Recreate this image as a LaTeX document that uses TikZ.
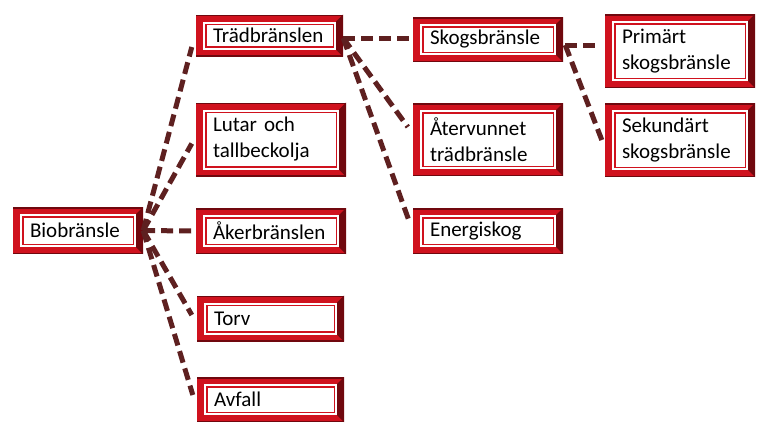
\documentclass[tikz,border=0pt]{standalone}
\usepackage{fontspec}
\setmainfont{Carlito}
\usetikzlibrary{calc}
\definecolor{boxred}{RGB}{208,18,30}
\definecolor{boxdark}{RGB}{112,8,14}
\definecolor{linkcol}{RGB}{94,32,32}
\tikzset{
  bbox/.style n args={2}{rectangle, minimum width=#1pt, minimum height=#2pt,
    text width=#1pt-34pt, inner xsep=17pt, inner ysep=0pt, align=left,
    font=\fontsize{21}{26}\selectfont,
    path picture={
      \fill[boxred] (path picture bounding box.south west) rectangle (path picture bounding box.north east);
      \fill[boxdark] ([xshift=-7pt,yshift=-7pt]path picture bounding box.north east) -- (path picture bounding box.north east) -- (path picture bounding box.south east) -- ([xshift=-7pt,yshift=7pt]path picture bounding box.south east) -- cycle;
      \fill[boxdark] (path picture bounding box.north west) rectangle ([yshift=-1.5pt]path picture bounding box.north east);
      \fill[boxdark] (path picture bounding box.south west) rectangle ([yshift=1.5pt]path picture bounding box.south east);
      \fill[white] ([xshift=7pt,yshift=-7pt]path picture bounding box.north west) rectangle ([xshift=-7pt,yshift=7pt]path picture bounding box.south east);
      \draw[boxred, line width=1.5pt] ([xshift=9.75pt,yshift=-9.75pt]path picture bounding box.north west) rectangle ([xshift=-9.75pt,yshift=9.75pt]path picture bounding box.south east);
    }},
  link/.style={draw=linkcol, line width=5pt, dash pattern=on 12pt off 6pt}
}
\begin{document}
\begin{tikzpicture}[x=1pt,y=-1pt]
\useasboundingbox[fill=white] (0,0) rectangle (768,432);
\node[bbox={130}{47}] (bio) at (78,230.5) {Biobränsle};
\node[bbox={147}{42}] (trad) at (269.5,35.5) {Trädbränslen};
\node[bbox={150}{74}] (lutar) at (271,139.5) {Lutar och\\tallbeckolja};
\node[bbox={150}{46}] (aker) at (271,231) {Åkerbränslen};
\node[bbox={147}{46}] (torv) at (270.5,318.5) {Torv};
\node[bbox={147}{45}] (avfall) at (270.5,399.5) {Avfall};
\node[bbox={150}{45}] (skog) at (488,39.5) {Skogsbränsle};
\node[bbox={150}{73}] (ater) at (488,139.5) {Återvunnet\\trädbränsle};
\node[bbox={150}{46}] (energi) at (488,231) {Energiskog};
\node[bbox={150}{74}] (prim) at (680,51) {Primärt\\skogsbränsle};
\node[bbox={150}{74}] (sek) at (680,140) {Sekundärt\\skogsbränsle};

\draw[link] (bio.east) -- ($(trad.west)+(-4,11.5)$);
\draw[link] (bio.east) -- ($(lutar.west)+(-4,4)$);
\draw[link] (bio.east) -- ($(aker.west)+(-4,0)$);
\draw[link] (bio.east) -- ($(torv.west)+(-5,-3.5)$);
\draw[link] (bio.east) -- ($(avfall.west)+(-4,-4.5)$);
\draw[link] ($(trad.east)+(0,2.5)$) -- ($(skog.west)+(-4,-1.5)$);
\draw[link] ($(trad.east)+(0,2.5)$) -- ($(ater.west)+(-5,-12.5)$);
\draw[link] ($(trad.east)+(0,2.5)$) -- ($(energi.west)+(-3,-8)$);
\draw[link] ($(skog.east)+(2,5.5)$) -- ($(prim.west)+(-5,-6)$);
\draw[link] ($(skog.east)+(2,5.5)$) -- ($(sek.west)+(-3,0)$);
\end{tikzpicture}
\end{document}
